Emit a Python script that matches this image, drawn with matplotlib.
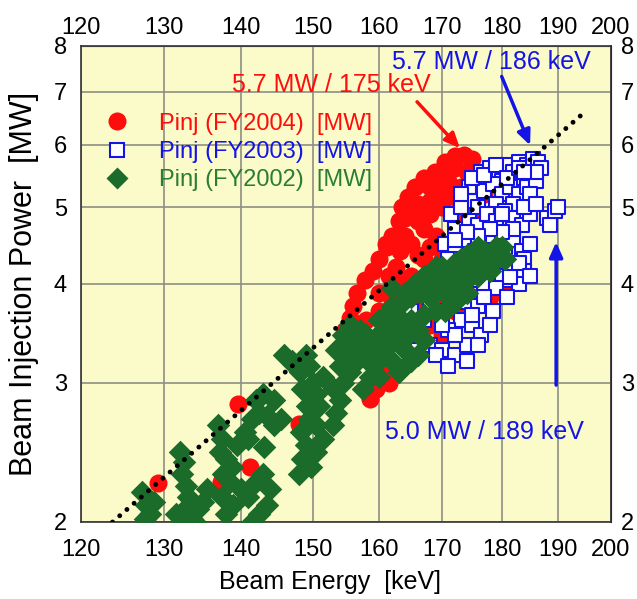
import matplotlib
matplotlib.use('Agg')
import matplotlib.pyplot as plt
from matplotlib.lines import Line2D
from matplotlib.ticker import FixedLocator, NullLocator, FixedFormatter, NullFormatter

plt.rcParams['font.family'] = ['Liberation Sans', 'DejaVu Sans']

# Pinj (FY2004) - red circles
e_2004 = [129.3, 137.4, 139.6, 141.2, 148.0, 158.6, 159.5, 161.4, 160.5, 157.5,
          154.8, 155.5, 156.0, 156.6, 157.8, 159.0, 160.0, 161.2, 163.2, 162.0,
          163.0, 163.5, 164.5, 165.5, 167.0, 168.8, 170.5, 172.0, 173.5, 175.0,
          176.0, 158.0, 160.0, 162.0, 164.0, 166.0, 165.0, 167.0, 169.0, 170.0,
          163.0, 165.0, 167.0, 169.0, 171.0, 173.0, 175.0, 177.0, 179.0, 181.0,
          180.0, 178.0, 176.0, 165.0, 167.0, 169.0, 171.0, 173.0, 166.0, 168.0,
          170.0, 172.0, 174.0, 169.0, 171.0, 173.0, 175.0, 174.0, 172.0, 160.0,
          161.5, 162.0, 164.7, 166.5,
          162.5, 164.0, 166.0, 168.0, 170.0, 172.0, 174.0, 176.0, 176.0, 174.0,
          172.0, 170.0, 168.0, 166.0, 164.0, 161.0, 170.0, 168.0, 166.0, 164.0,
          175.5, 177.0, 178.0, 180.0, 170.0, 168.0, 172.0]
p_2004 = [2.24, 2.25, 2.82, 2.35, 2.66, 2.86, 2.95, 3.00, 3.10, 3.30,
          3.50, 3.62, 3.75, 3.90, 4.05, 4.15, 4.30, 4.45, 4.40, 4.60,
          4.80, 5.00, 5.15, 5.30, 5.45, 5.55, 5.70, 5.80, 5.82, 5.75,
          5.55, 3.60, 3.70, 3.50, 3.40, 3.30, 3.60, 3.80, 3.60, 3.45,
          3.90, 4.10, 4.30, 4.10, 4.00, 3.90, 3.85, 3.90, 4.00, 4.10,
          4.30, 4.25, 4.10, 4.50, 4.70, 4.60, 4.50, 4.40, 4.95, 5.10,
          5.00, 4.90, 4.70, 5.35, 5.40, 5.30, 5.20, 5.55, 5.60, 3.90,
          4.10, 3.80, 3.40, 3.30,
          4.20, 4.60, 4.80, 4.90, 5.20, 5.15, 5.00, 4.90, 5.30, 4.25,
          4.15, 4.30, 4.45, 4.35, 4.05, 4.50, 5.50, 5.30, 5.05, 4.85,
          5.50, 5.20, 3.85, 3.95, 3.75, 3.55, 3.70]

# Pinj (FY2003) - blue open squares
e_2003 = [176.5, 178.0, 179.5, 181.0, 182.0, 183.0, 184.5, 185.5, 186.5, 187.0,
          185.0, 180.0, 183.5, 174.5, 175.5, 177.0, 178.5, 180.0, 181.5, 183.0,
          184.5, 186.0, 176.0, 179.0, 182.0, 171.5, 173.0, 174.5, 176.0, 177.5,
          179.0, 180.5, 182.0, 183.5, 185.0, 172.0, 170.5, 172.0, 173.5, 175.5,
          177.0, 178.5, 180.5, 182.0, 183.5, 185.0, 184.0, 176.0, 179.0, 174.0,
          176.0, 178.0, 180.0, 182.0, 184.0, 181.5, 183.0, 181.4, 172.0, 174.0,
          176.0, 173.0, 175.0, 171.0, 176.5, 178.5, 169.0, 167.0, 165.0, 166.0,
          168.0, 170.0, 172.0, 174.0, 161.5, 162.5,
          173.0, 175.0, 177.0, 179.0, 181.0, 183.0, 185.0, 186.0, 184.0, 182.0,
          180.0, 178.0, 176.0, 174.0, 172.0, 171.0, 173.0, 175.0, 177.0, 179.0,
          181.0, 183.0, 185.0, 178.0, 175.0, 172.0, 170.0, 168.0, 164.0, 166.0,
          169.0, 171.0, 174.0, 176.0, 177.0, 180.0, 184.0, 186.0,
          188.0, 188.5, 189.5, 190.0]
p_2003 = [5.55, 5.60, 5.50, 5.65, 5.55, 5.70, 5.65, 5.75, 5.70, 5.60,
          5.50, 5.40, 5.45, 5.30, 5.10, 5.25, 5.35, 5.20, 5.30, 5.20,
          5.30, 5.40, 5.00, 5.05, 5.05, 4.90, 5.00, 4.80, 4.75, 4.90,
          4.80, 4.95, 4.85, 4.75, 4.90, 4.70, 4.50, 4.40, 4.55, 4.40,
          4.50, 4.60, 4.45, 4.55, 4.40, 4.50, 4.30, 4.30, 4.30, 4.15,
          4.05, 4.15, 4.10, 4.20, 4.15, 4.05, 4.00, 4.08, 3.90, 3.80,
          3.75, 3.60, 3.55, 3.50, 3.45, 3.70, 3.70, 3.60, 3.70, 3.45,
          3.35, 3.30, 3.25, 3.35, 3.60, 3.50,
          5.20, 5.45, 5.50, 5.65, 5.45, 5.60, 5.20, 5.55, 5.00, 4.70,
          4.65, 4.70, 4.60, 4.65, 4.55, 4.30, 4.30, 4.15, 4.00, 3.95,
          3.85, 4.25, 4.10, 3.55, 3.65, 3.45, 3.55, 3.80, 3.55, 3.30,
          3.25, 3.15, 3.20, 3.35, 3.85, 4.90, 5.55, 5.05,
          4.85, 4.75, 4.95, 5.00]

# Pinj (FY2002) - green diamonds
e_2002 = [127.3, 127.8, 128.3, 127.6, 128.8,
          132.0, 132.5, 132.3, 132.8, 133.0, 131.5, 132.2, 133.5, 134.3, 135.0,
          135.5, 134.0, 133.2,
          137.0, 137.5, 137.2, 138.0, 137.6, 138.5, 137.5, 138.0, 139.0, 140.0,
          141.0, 142.0, 143.0, 144.0, 143.5, 142.5, 141.5, 143.2, 140.5, 141.5,
          142.5, 143.5, 144.5, 145.5, 142.0, 143.0, 144.5, 141.0, 138.8, 139.5,
          148.0, 148.5, 149.0, 148.3, 149.5, 150.5, 149.2, 150.5, 151.0, 148.5,
          150.0, 151.5, 149.5, 148.2, 147.0, 146.0, 150.5, 151.5, 149.8, 147.5,
          149.0,
          153.0, 153.5, 154.0, 153.2, 154.5, 155.5, 154.0, 155.0, 156.0, 153.5,
          154.5, 155.5, 157.0, 156.5,
          157.5, 158.5, 159.0, 158.0, 159.5, 160.5, 161.5, 160.5, 161.0, 162.0,
          163.0, 164.0, 165.0, 166.0, 163.0, 164.0, 165.0, 166.0, 167.0, 165.5,
          167.0, 168.0, 169.0, 170.0, 171.0, 172.0, 173.0, 172.0, 174.0, 175.0,
          176.0, 177.0, 178.0, 179.0, 180.0, 180.5, 176.0, 174.0, 169.0, 162.0,
          170.5,
          158.0, 160.0, 162.0, 163.5, 165.0, 166.5, 168.0, 170.0, 171.5, 173.0,
          175.0, 177.0, 179.0, 178.0, 176.0, 174.0, 172.0, 169.0, 167.0, 164.5,
          162.0, 160.0, 163.0]
p_2002 = [2.18, 2.10, 2.05, 2.02, 2.12,
          2.45, 2.38, 2.30, 2.22, 2.15, 2.05, 2.00, 2.02, 2.08, 2.12,
          2.20, 2.00, 2.10,
          2.65, 2.55, 2.45, 2.40, 2.30, 2.25, 2.15, 2.05, 2.10, 2.20,
          2.15, 2.25, 2.30, 2.20, 2.10, 2.05, 2.00, 2.49, 2.60, 2.70,
          2.75, 2.72, 2.65, 2.70, 2.85, 2.90, 2.85, 2.55, 2.35, 2.50,
          2.30, 2.40, 2.50, 2.60, 2.70, 2.65, 2.80, 2.90, 2.80, 2.95,
          3.00, 3.05, 3.15, 3.10, 3.20, 3.25, 2.45, 2.55, 2.35, 3.15,
          3.25,
          2.65, 2.75, 2.85, 2.95, 3.00, 3.10, 3.15, 3.25, 3.35, 3.30,
          3.45, 3.55, 3.50, 3.20,
          2.95, 3.05, 3.15, 3.30, 3.40, 3.25, 3.35, 3.50, 3.65, 3.55,
          3.45, 3.30, 3.20, 3.25, 3.75, 3.90, 3.60, 3.50, 3.65, 4.00,
          4.10, 3.85, 3.95, 4.05, 3.85, 4.00, 4.15, 4.25, 4.05, 4.20,
          4.30, 4.20, 4.35, 4.30, 4.45, 4.30, 4.45, 4.35, 4.20, 3.95,
          3.70,
          3.45, 3.60, 3.75, 3.60, 3.85, 3.90, 4.05, 4.20, 4.10, 4.30,
          4.35, 4.40, 4.45, 4.15, 4.10, 3.90, 3.80, 3.70, 3.40, 3.45,
          3.20, 3.05, 3.10]

# dotted reference line (end points)
line_e = [123.7, 194.9]
line_p = [2.0, 6.59]

x_ticks = [120, 130, 140, 150, 160, 170, 180, 190, 200]
y_ticks = [2, 3, 4, 5, 6, 7, 8]

red = '#ff0d0d'
blue = '#1414e6'
green = '#1b6b2a'
green_txt = '#2a7d32'

fig = plt.figure(figsize=(6.37, 5.99), dpi=100)
ax = fig.add_axes([81 / 637, 77 / 599, 530 / 637, 476 / 599])
ax.set_facecolor('#fbfbca')

ax.scatter(e_2004, p_2004, s=13 ** 2, marker='o', color=red, linewidths=0, zorder=3)
ax.scatter(e_2003, p_2003, s=10.5 ** 2, marker='s', facecolor='white', edgecolor=blue,
           linewidths=1.5, zorder=4)
ax.scatter(e_2002, p_2002, s=12 ** 2, marker='D', color=green, linewidths=0, zorder=5)
ax.plot(line_e, line_p, color='black', lw=3.5, linestyle=(0, (0.01, 1.95)),
        dash_capstyle='round', zorder=6)

ax.set_xscale('log')
ax.set_yscale('log')
ax.set_xlim(120, 200)
ax.set_ylim(2, 8)

for axis, ticks in ((ax.xaxis, x_ticks), (ax.yaxis, y_ticks)):
    axis.set_major_locator(FixedLocator(ticks))
    axis.set_major_formatter(FixedFormatter([str(t) for t in ticks]))
    axis.set_minor_locator(NullLocator())
    axis.set_minor_formatter(NullFormatter())

ax.grid(True, color='#8e8e84', lw=1.2, zorder=1)
ax.set_axisbelow(True)
for sp in ax.spines.values():
    sp.set_color('#333333')
    sp.set_linewidth(1.2)
ax.tick_params(axis='x', direction='in', length=0, labelsize=17, pad=12)
ax.tick_params(axis='y', direction='in', length=0, labelsize=17, pad=10)

top = ax.secondary_xaxis('top')
top.set_xticks(x_ticks)
top.xaxis.set_major_formatter(FixedFormatter([str(t) for t in x_ticks]))
top.xaxis.set_minor_locator(NullLocator())
top.tick_params(length=0, labelsize=17, pad=5)
right = ax.secondary_yaxis('right')
right.set_yticks(y_ticks)
right.yaxis.set_major_formatter(FixedFormatter([str(t) for t in y_ticks]))
right.yaxis.set_minor_locator(NullLocator())
right.tick_params(length=0, labelsize=17, pad=7)

ax.set_xlabel('Beam Energy  [keV]', fontsize=18)
ax.set_ylabel('Beam Injection Power  [MW]', fontsize=22)
ax.xaxis.set_label_coords(0.47, -0.1)
ax.yaxis.set_label_coords(-0.08, 0.5)

# annotations
arrow_kw = dict(lw=2.5, shrinkA=0, shrinkB=0)
ax.text(152.8, 7.14, '5.7 MW / 175 keV', color=red, fontsize=18, ha='center', va='center', zorder=7)
ax.annotate('', xy=(172.9, 5.94), xytext=(165.9, 6.8),
            arrowprops=dict(arrowstyle='-|>,head_length=0.9,head_width=0.4', color=red, **arrow_kw),
            zorder=7)
ax.text(178.3, 7.63, '5.7 MW / 186 keV', color=blue, fontsize=18, ha='center', va='center', zorder=7)
ax.annotate('', xy=(185.0, 5.99), xytext=(180.0, 7.32),
            arrowprops=dict(arrowstyle='-|>,head_length=0.9,head_width=0.4', color=blue, **arrow_kw),
            zorder=7)
ax.text(177.1, 2.6, '5.0 MW / 189 keV', color=blue, fontsize=18, ha='center', va='center', zorder=7)
ax.annotate('', xy=(189.7, 4.52), xytext=(189.7, 2.98),
            arrowprops=dict(arrowstyle='-|>,head_length=0.9,head_width=0.4', color=blue, **arrow_kw),
            zorder=7)

handles = [
    Line2D([], [], ls='none', marker='o', ms=13, color=red, mec='none'),
    Line2D([], [], ls='none', marker='s', ms=10.5, mfc='white', mec=blue, mew=1.5),
    Line2D([], [], ls='none', marker='D', ms=11, color=green, mec='none'),
]
labels = ['Pinj (FY2004)  [MW]', 'Pinj (FY2003)  [MW]', 'Pinj (FY2002)  [MW]']
leg = ax.legend(handles, labels, loc='upper left', bbox_to_anchor=(0.035, 0.86),
                frameon=False, fontsize=17, labelcolor=[red, blue, green_txt],
                handlelength=1.5, handletextpad=1.0, labelspacing=0.27,
                borderpad=0, borderaxespad=0)
leg.set_zorder(8)

fig.savefig('out.png', dpi=100)
